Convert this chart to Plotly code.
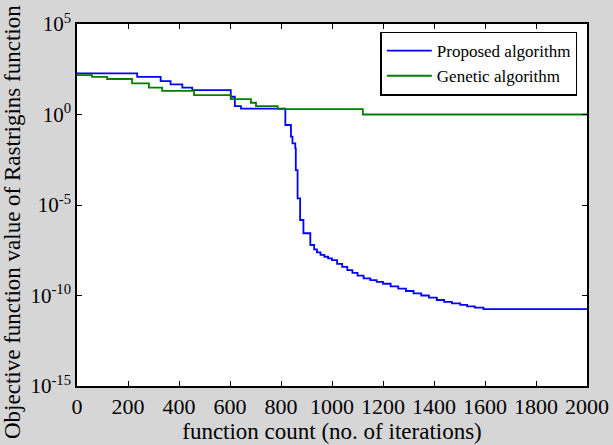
import plotly.graph_objects as go

# Function count (iterations) and log10 of objective value
proposed_x = [0, 236, 328, 367, 413, 452, 603, 619, 643, 817, 839, 845, 856, 858, 865, 875, 888,
              915, 930, 941, 955, 970, 985, 1000, 1020, 1040, 1060, 1080, 1100, 1124, 1150, 1175,
              1200, 1230, 1260, 1290, 1320, 1350, 1380, 1411, 1440, 1470, 1503, 1530, 1560, 1594, 2000]
proposed_log10 = [2.27, 2.08, 1.84, 1.66, 1.49, 1.35, 0.98, 0.46, 0.33, -0.58, -1.22, -1.59, -1.87,
                  -3.07, -4.63, -5.83, -6.56, -7.21, -7.45, -7.62, -7.75, -7.86, -7.95, -8.05, -8.25,
                  -8.42, -8.60, -8.75, -8.90, -9.05, -9.15, -9.25, -9.35, -9.50, -9.62, -9.75, -9.88,
                  -10.0, -10.12, -10.25, -10.35, -10.44, -10.52, -10.60, -10.67, -10.75, -10.75]

genetic_x = [0, 59, 118, 216, 282, 334, 459, 603, 682, 702, 787, 1121, 2000]
genetic_log10 = [2.18, 2.08, 1.96, 1.72, 1.49, 1.31, 1.07, 0.85, 0.65, 0.46, 0.30, 0.0, 0.0]

x_ticks = [0, 200, 400, 600, 800, 1000, 1200, 1400, 1600, 1800, 2000]
y_tick_exps = [5, 0, -5, -10, -15]

proposed_y = [10 ** v for v in proposed_log10]
genetic_y = [10 ** v for v in genetic_log10]

FONT = "Liberation Serif"
W, H = 613, 445
ML, MR, MT, MB = 77, 26, 24, 59
PW, PH = W - ML - MR, H - MT - MB

fig = go.Figure()
fig.add_trace(go.Scatter(x=proposed_x, y=proposed_y, mode="lines", line_shape="hv",
                         name="Proposed algorithm", line=dict(color="#0000ff", width=1.8)))
fig.add_trace(go.Scatter(x=genetic_x, y=genetic_y, mode="lines", line_shape="hv",
                         name="Genetic algorithm", line=dict(color="#007f00", width=1.8)))

fig.update_layout(
    width=W, height=H,
    margin=dict(l=ML, r=MR, t=MT, b=MB, autoexpand=False),
    paper_bgcolor="#d6d6d6",
    plot_bgcolor="white",
    font=dict(family=FONT, color="black", size=18),
    showlegend=True,
    legend=dict(x=0.981, y=0.979, xanchor="right", yanchor="top",
                bgcolor="white", bordercolor="black", borderwidth=1.5,
                font=dict(family=FONT, size=17), tracegroupgap=0,
                itemwidth=45),
    xaxis=dict(range=[0, 2000], tickvals=x_ticks, ticks="inside", ticklen=5,
               tickcolor="black", showgrid=False, zeroline=False, showline=True,
               linecolor="black", linewidth=1.5, mirror="allticks", automargin=False,
               tickfont=dict(size=22, family=FONT),
               title=dict(text="function count (no. of iterations)", standoff=0,
                          font=dict(size=23, family=FONT))),
    yaxis=dict(type="log", range=[-15, 5],
               tickvals=[10 ** e for e in y_tick_exps],
               ticktext=["10<sup>%d</sup>" % e for e in y_tick_exps],
               ticks="inside", ticklen=5, tickcolor="black", showgrid=False,
               zeroline=False, showline=True, linecolor="black", linewidth=1.5,
               mirror="allticks", automargin=False, tickfont=dict(size=21, family=FONT)),
    annotations=[dict(text="Objective function value of Rastrigins function",
                      textangle=-90, showarrow=False, xref="paper", yref="paper",
                      x=(12 - ML) / PW, y=(H - MB - 222) / PH,
                      xanchor="center", yanchor="middle",
                      font=dict(size=23, family=FONT, color="black"))],
)

fig.write_html("out.html", config={"displayModeBar": False},
               post_script="document.body.style.margin='0';document.body.style.overflow='hidden';")
